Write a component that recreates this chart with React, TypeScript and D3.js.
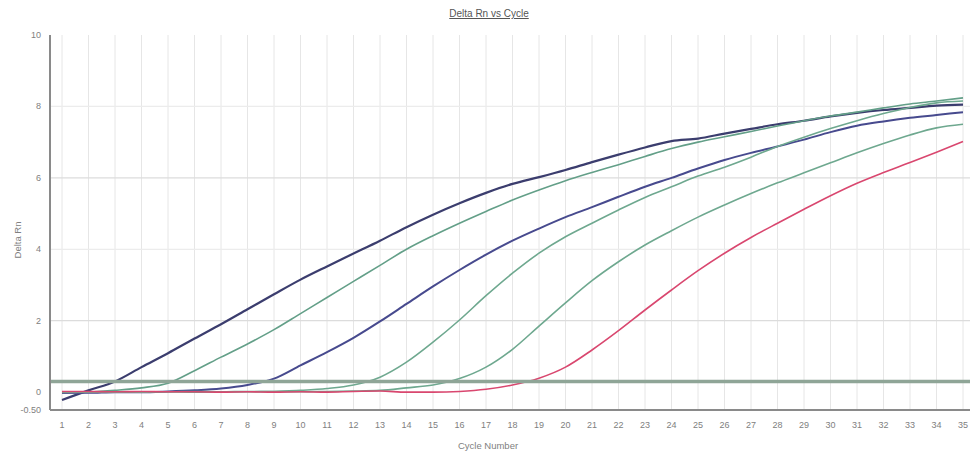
import React from "react";
import * as d3 from "d3";

// Amplification plot: Delta Rn per PCR cycle for a dilution series
const cycles = [
  1, 2, 3, 4, 5, 6, 7, 8, 9, 10, 11, 12, 13, 14, 15, 16, 17, 18, 19, 20,
  21, 22, 23, 24, 25, 26, 27, 28, 29, 30, 31, 32, 33, 34, 35,
];

const wellA = [
  -0.22, 0.05, 0.3, 0.7, 1.09, 1.5, 1.9, 2.32, 2.74, 3.15, 3.52, 3.88, 4.24, 4.62, 4.97,
  5.29, 5.58, 5.83, 6.02, 6.22, 6.44, 6.65, 6.85, 7.03, 7.1, 7.24, 7.37, 7.5, 7.6, 7.72,
  7.82, 7.9, 7.96, 8.02, 8.05,
];
const wellB = [
  -0.02, 0.0, 0.05, 0.12, 0.25, 0.6, 0.98, 1.35, 1.75, 2.2, 2.65, 3.1, 3.55, 4.0, 4.38,
  4.73, 5.06, 5.38, 5.66, 5.92, 6.15, 6.37, 6.6, 6.82, 7.0, 7.15, 7.3, 7.45, 7.6, 7.73,
  7.84, 7.96, 8.07, 8.15, 8.24,
];
const wellC = [
  -0.02, -0.02, 0.0, 0.0, 0.02, 0.05, 0.1, 0.2, 0.38, 0.75, 1.12, 1.52, 1.98, 2.47, 2.96,
  3.42, 3.85, 4.24, 4.58, 4.9, 5.18, 5.47, 5.75, 6.0, 6.26, 6.5, 6.7, 6.88, 7.07, 7.28,
  7.46, 7.58, 7.68, 7.76, 7.84,
];
const wellD = [
  0.0, 0.01, 0.0, 0.01, 0.01, 0.02, 0.01, 0.02, 0.02, 0.05, 0.1, 0.2, 0.42, 0.84, 1.4,
  2.02, 2.7, 3.33, 3.89, 4.35, 4.73, 5.1, 5.45, 5.75, 6.05, 6.3, 6.58, 6.88, 7.14, 7.38,
  7.6, 7.8, 7.97, 8.1, 8.15,
];
const wellE = [
  0.0, 0.0, 0.01, 0.0, 0.01, 0.0, 0.01, 0.01, 0.02, 0.01, 0.02, 0.03, 0.05, 0.12, 0.2,
  0.38, 0.7, 1.2, 1.85, 2.5, 3.12, 3.65, 4.12, 4.52, 4.9, 5.24, 5.56, 5.86, 6.14, 6.42,
  6.7, 6.96, 7.2, 7.4, 7.5,
];
const wellF = [
  0.02, 0.02, 0.01, 0.02, 0.01, 0.01, 0.0, 0.01, 0.0, 0.01, 0.0, 0.02, 0.03, 0.0, 0.0,
  0.02, 0.08, 0.2, 0.39, 0.7, 1.18, 1.72, 2.3, 2.86, 3.4, 3.89, 4.33, 4.73, 5.12, 5.5,
  5.85, 6.15, 6.43, 6.72, 7.02,
];

const seriesList = [
  { name: "A", values: wellA, color: "#3b3d6e", width: 2.2 },
  { name: "B", values: wellB, color: "#639f88", width: 1.6 },
  { name: "C", values: wellC, color: "#474a8e", width: 2 },
  { name: "D", values: wellD, color: "#6ea88f", width: 1.6 },
  { name: "E", values: wellE, color: "#6ea88f", width: 1.6 },
  { name: "F", values: wellF, color: "#d9476f", width: 1.6 },
];

const yTicks = [10, 8, 6, 4, 2, 0];
const yGridValues = [8, 6, 4, 2];
const yBottomLabel = "-0.50";
const threshold = 0.3;

const W = 970;
const H = 459;

export default function App() {
  const x = d3.scaleLinear().domain([1, 35]).range([62, 963]);
  const y = d3.scaleLinear().domain([-0.5, 10]).range([410, 35]);
  const left = 50;
  const right = 970;

  const line = d3
    .line<number>()
    .x((_, i) => x(cycles[i]))
    .y((d) => y(d))
    .curve(d3.curveMonotoneX);

  const font = "'Liberation Sans', Arial, sans-serif";

  return (
    <svg
      width={W}
      height={H}
      style={{ position: "absolute", left: 0, top: 0, background: "#fff" }}
      fontFamily={font}
    >
      <rect x={0} y={0} width={W} height={H} fill="#fff" />

      {/* title */}
      <text
        x={489}
        y={17}
        textAnchor="middle"
        fontSize={10}
        fill="#555"
        textDecoration="underline"
      >
        Delta Rn vs Cycle
      </text>

      {/* vertical grid at each cycle */}
      {cycles.map((c) => (
        <line
          key={"vg" + c}
          x1={x(c)}
          x2={x(c)}
          y1={y(10)}
          y2={y(-0.5)}
          stroke="#e6e6e6"
          strokeWidth={1}
        />
      ))}

      {/* horizontal grid */}
      {yGridValues.map((v) => (
        <line
          key={"hg" + v}
          x1={left}
          x2={right}
          y1={y(v)}
          y2={y(v)}
          stroke={v === 6 || v === 2 ? "#dcdcdc" : "#ececec"}
          strokeWidth={1.2}
        />
      ))}

      {/* amplification curves */}
      {seriesList.map((s) => (
        <path
          key={s.name}
          d={line(s.values) || ""}
          fill="none"
          stroke={s.color}
          strokeWidth={s.width}
          strokeLinejoin="round"
        />
      ))}

      {/* threshold */}
      <line
        x1={left}
        x2={right}
        y1={y(threshold)}
        y2={y(threshold)}
        stroke="#8fa597"
        strokeWidth={3.5}
      />

      {/* axes */}
      <line x1={left} x2={left} y1={y(10)} y2={y(-0.5)} stroke="#8a8a8a" strokeWidth={2} />
      <line x1={left} x2={right} y1={y(-0.5)} y2={y(-0.5)} stroke="#8a8a8a" strokeWidth={2} />

      {/* y tick labels */}
      {yTicks.map((v) => (
        <text
          key={"yt" + v}
          x={41}
          y={y(v) + 3}
          textAnchor="end"
          fontSize={9}
          fill="#808080"
        >
          {v}
        </text>
      ))}
      <text x={41} y={y(-0.5) + 3} textAnchor="end" fontSize={9} fill="#808080">
        {yBottomLabel}
      </text>

      {/* x tick labels */}
      {cycles.map((c) => (
        <text
          key={"xt" + c}
          x={x(c)}
          y={428}
          textAnchor="middle"
          fontSize={9}
          fill="#808080"
        >
          {c}
        </text>
      ))}

      {/* axis titles */}
      <text x={488} y={449} textAnchor="middle" fontSize={9.5} fill="#808080">
        Cycle Number
      </text>
      <text
        transform={`translate(21, 240) rotate(-90)`}
        textAnchor="middle"
        fontSize={9.5}
        fill="#808080"
      >
        Delta Rn
      </text>
    </svg>
  );
}
